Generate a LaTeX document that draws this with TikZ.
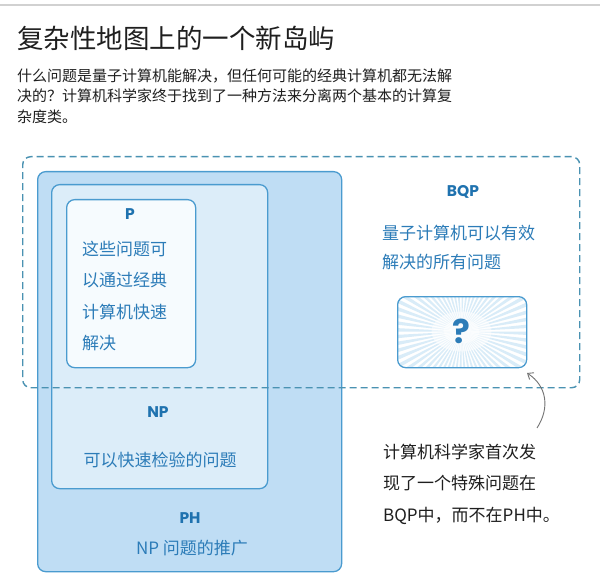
\documentclass[tikz,border=0pt]{standalone}
\usepackage{fontspec}
\setmainfont{Noto Sans CJK SC}
\newfontfamily\latinb{Poppins}
\usetikzlibrary{arrows.meta}
\definecolor{phfill}{HTML}{BFDDF4}
\definecolor{npfill}{HTML}{DCEDF9}
\definecolor{pfill}{HTML}{F6FBFE}
\definecolor{boxline}{HTML}{4A9BCF}
\definecolor{dashc}{HTML}{4A92B2}
\definecolor{txtblue}{HTML}{2C7CB8}
\definecolor{lblblue}{HTML}{1F72AF}
\definecolor{ray}{HTML}{D9ECF8}
\tikzset{
  setbox/.style={draw=boxline, line width=1.3pt, rounded corners=8pt, anchor=north west, inner sep=0pt},
  lbl/.style={font=\latinb\bfseries\fontsize{15.5}{18}\selectfont, text=lblblue, inner sep=0pt},
  bluetxt/.style={text=txtblue, inner sep=0pt, align=left},
  blacktxt/.style={text=black!88, inner sep=0pt, align=left}
}
\begin{document}
\begin{tikzpicture}[x=1pt,y=-1pt]
\useasboundingbox (0,0) rectangle (600,588);
\fill[white] (0,0) rectangle (600,588);
\draw[black!18, line width=2pt] (0,5) -- (600,5);
% title and subtitle
\node[blacktxt, anchor=west, font=\fontsize{26.5}{30}\selectfont] (title) at (17,38) {复杂性地图上的一个新岛屿};
\node[blacktxt, anchor=west, font=\fontsize{15}{20.5}\selectfont] (sub) at (17,96)
 {什么问题是量子计算机能解决，但任何可能的经典计算机都无法解\\决的？计算机科学家终于找到了一种方法来分离两个基本的计算复\\杂度类。};
% boxes
\node[setbox, fill=phfill, minimum width=304pt, minimum height=400pt] (PH) at (37,171) {};
\node[setbox, fill=npfill, minimum width=216pt, minimum height=304pt] (NP) at (51,184) {};
\node[setbox, fill=pfill, minimum width=129pt, minimum height=168pt] (P) at (66,199) {};
\node[draw=dashc, dashed, dash pattern=on 7pt off 4pt, line width=1.4pt, rounded corners=8pt, anchor=north west, inner sep=0pt, minimum width=557pt, minimum height=231pt] (BQP) at (22,156) {};
% question box with sunburst
\coordinate (qc) at (461.5,331.5);
\begin{scope}
\clip[rounded corners=9pt] (397,296) rectangle (526,367);
\fill[white] (397,296) rectangle (526,367);
\foreach \a in {0,6,...,354}{
  \fill[ray] (qc) -- ++(\a:110) -- ++(\a+91.5:5.8) -- cycle;
}
\fill[white, opacity=0.5] (qc) ellipse (30pt and 20pt);
\fill[white, opacity=0.5] (qc) ellipse (18pt and 12pt);
\end{scope}
\node[setbox, minimum width=129pt, minimum height=71pt] (Q) at (397,296) {};
\node[font=\latinb\bfseries\fontsize{33}{35}\selectfont, text=txtblue, inner sep=0pt] (qm) at (qc) {?};
% labels
\node[lbl] (Plbl) at (130,214) {P};
\node[bluetxt, anchor=west, font=\fontsize{17}{31.3}\selectfont] (Ptxt) at (82,296) {这些问题可\\以通过经典\\计算机快速\\解决};
\node[lbl] (NPlbl) at (158,412) {NP};
\node[bluetxt, font=\fontsize{17}{20}\selectfont] (NPtxt) at (160,460) {可以快速检验的问题};
\node[lbl] (PHlbl) at (190,518) {PH};
\node[bluetxt, font=\fontsize{17}{20}\selectfont] (PHtxt) at (192,548) {NP 问题的推广};
\node[lbl] (BQPlbl) at (463,192) {BQP};
\node[bluetxt, anchor=west, font=\fontsize{17}{29}\selectfont] (BQPtxt) at (382,247.5) {量子计算机可以有效\\解决的所有问题};
% annotation
\node[blacktxt, anchor=west, font=\fontsize{17}{31.5}\selectfont] (ann) at (383,484) {计算机科学家首次发\\现了一个特殊问题在\\BQP中，而不在PH中。};
\coordinate (tail) at (537,428);
\coordinate (head) at (527,373);
\draw[black!55, line width=0.9pt, -{Straight Barb[length=5pt,width=8pt]}] (tail) .. controls (550,408) and (547,386) .. (head);
\end{tikzpicture}
\end{document}
